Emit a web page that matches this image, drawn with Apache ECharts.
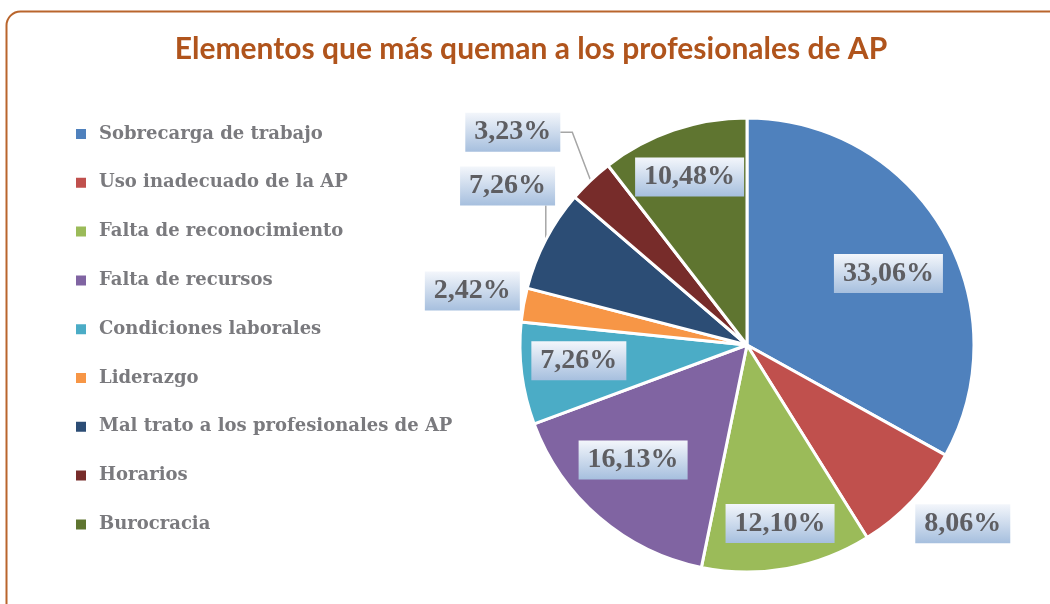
<!DOCTYPE html>
<html>
<head>
<meta charset="utf-8">
<script src="https://cdn.jsdelivr.net/npm/echarts@6/dist/echarts.min.js"></script>
<style>
  html, body { margin: 0; padding: 0; background: #fff; }
  #chart { width: 1050px; height: 604px; }
</style>
</head>
<body>
<div id="chart"></div>
<script>
// datos del gráfico
const categories = [
  'Sobrecarga de trabajo',
  'Uso inadecuado de la AP',
  'Falta de reconocimiento',
  'Falta de recursos',
  'Condiciones laborales',
  'Liderazgo',
  'Mal trato a los profesionales de AP',
  'Horarios',
  'Burocracia'
]
const values = [33.06, 8.06, 12.10, 16.13, 7.26, 2.42, 7.26, 3.23, 10.48]
const colors = ['#4F81BD', '#C0504D', '#9BBB59', '#8064A2', '#4BACC6', '#F79646', '#2C4D75', '#772C2A', '#5F7530']

// disposición de etiquetas: fracción del radio, desvío angular (grados) y líneas guía
const labelRadius = [0.698, 1.234, 0.80, 0.713, 0.744, 1.233, 1.266, 1.394, 0.782]
const labelShift = [3.7, -3.9, -0.3, 4.1, 1.9, 0.95, 6.0, -4.2, 0]
const leaderLine = [false, false, false, false, false, false, true, true, false]

const CX = 747
const CY = 345
const R = 227

const total = values.reduce((a, b) => a + b, 0)
const mids = []
let acc = 0
values.forEach(v => {
  mids.push((acc + v / 2) / total * Math.PI * 2)
  acc += v
})

const chart = echarts.init(document.getElementById('chart'))

const labelBg = new echarts.graphic.LinearGradient(0, 0, 0, 1, [
  { offset: 0, color: '#F3F6FB' },
  { offset: 1, color: '#A6BFDE' }
])

const option = {
  animation: false,
  color: colors,
  title: {
    text: 'Elementos que más queman a los profesionales de AP',
    left: 526,
    textAlign: 'center',
    top: 29,
    textStyle: {
      fontFamily: 'Lato',
      fontWeight: 'bold',
      fontSize: 30,
      color: '#B0541C'
    }
  },
  legend: {
    orient: 'vertical',
    left: 74,
    top: 124,
    padding: 0,
    itemWidth: 12,
    itemHeight: 12,
    itemGap: 28.8,
    icon: 'rect',
    data: categories,
    textStyle: {
      fontFamily: 'DejaVu Serif',
      fontWeight: 'bold',
      fontSize: 18,
      lineHeight: 20,
      color: '#7A7A7E',
      padding: [0, 0, 0, 7]
    }
  },
  graphic: [{
    type: 'rect',
    z: -1,
    shape: { x: 6.5, y: 11.5, width: 1100, height: 700, r: 14 },
    style: { fill: 'none', stroke: '#B9652C', lineWidth: 2 }
  }],
  series: [{
    type: 'pie',
    center: [CX, CY],
    radius: [0, R],
    startAngle: 90,
    clockwise: true,
    avoidLabelOverlap: false,
    itemStyle: { borderColor: '#fff', borderWidth: 3 },
    label: {
      show: true,
      position: 'outside',
      formatter: p => p.value.toFixed(2).replace('.', ',') + '%',
      fontFamily: 'Liberation Serif',
      fontWeight: 'bold',
      fontSize: 28,
      lineHeight: 28,
      color: '#5E5E62',
      backgroundColor: labelBg,
      padding: [6, 9, 5, 9]
    },
    labelLine: { show: false, lineStyle: { color: '#A6A6A6', width: 1.5 } },
    labelLayout: function (params) {
      const i = params.dataIndex
      const a = mids[i] + labelShift[i] * Math.PI / 180
      const rr = R * labelRadius[i]
      const x = CX + rr * Math.sin(a)
      const y = CY - rr * Math.cos(a)
      const res = { x: x, y: y, align: 'center', verticalAlign: 'middle' }
      if (leaderLine[i]) {
        const w = params.labelRect.width
        const h = params.labelRect.height
        const ex = CX + R * Math.sin(mids[i])
        const ey = CY - R * Math.cos(mids[i])
        if (ex > x - w / 2 && ex < x + w / 2) {
          res.labelLinePoints = [[ex, ey], [ex, y + h / 2], [ex, y + h / 2]]
        } else {
          const bx = x + w / 2
          res.labelLinePoints = [[ex, ey], [bx + 12, y], [bx, y]]
        }
      }
      return res
    },
    emphasis: { disabled: true },
    data: categories.map((name, i) => ({
      name: name,
      value: values[i],
      labelLine: { show: leaderLine[i] }
    }))
  }]
}

chart.setOption(option)
</script>
</body>
</html>
